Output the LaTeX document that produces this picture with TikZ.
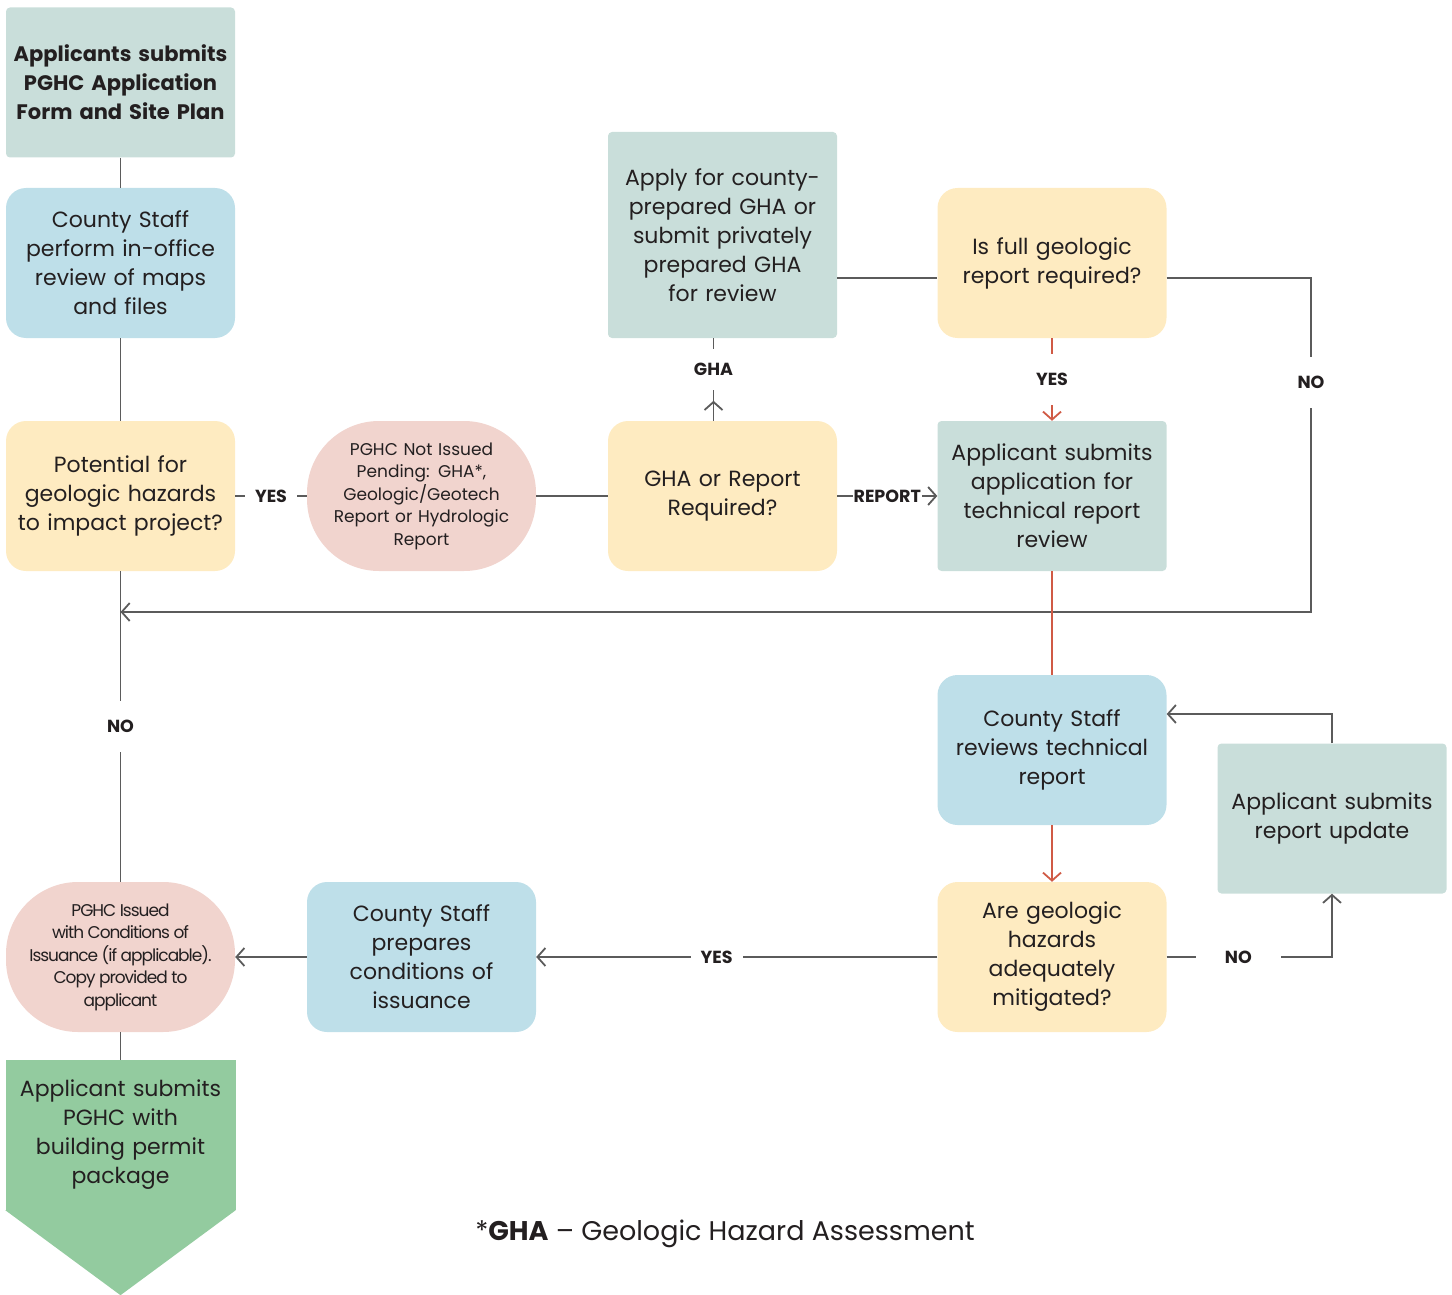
\documentclass[tikz,border=0pt]{standalone}
\usepackage{fontspec}
\setmainfont{Poppins}
\usepackage{tikz}
\usetikzlibrary{arrows.meta,positioning}
\definecolor{applgreen}{HTML}{C9DEDA}
\definecolor{staffblue}{HTML}{BEDFE9}
\definecolor{askyellow}{HTML}{FEEBC1}
\definecolor{pgpink}{HTML}{F1D4CE}
\definecolor{permgreen}{HTML}{93CB9F}
\definecolor{linegray}{HTML}{5B5B5B}
\definecolor{flowred}{HTML}{D05A45}
\definecolor{inkdark}{HTML}{231F20}
\newcommand{\boxfont}{\fontsize{22}{29}\selectfont}
\newcommand{\pinkfont}{\fontsize{17}{22.5}\selectfont}
\newcommand{\lblfont}{\fontsize{17.5}{20}\selectfont\bfseries}
\newcommand{\notefont}{\fontsize{27}{32}\selectfont}
\tikzstyle{applicant} = [rectangle, rounded corners=4pt, minimum width=229pt, minimum height=150pt, text width=215pt, text centered, fill=applgreen, text=inkdark, font=\boxfont]
\tikzstyle{staff} = [rectangle, rounded corners=20pt, minimum width=229pt, minimum height=150pt, text width=215pt, text centered, fill=staffblue, text=inkdark, font=\boxfont]
\tikzstyle{decision} = [rectangle, rounded corners=20pt, minimum width=229pt, minimum height=150pt, text width=215pt, text centered, fill=askyellow, text=inkdark, font=\boxfont]
\tikzstyle{status} = [rectangle, rounded corners=72pt, minimum width=229pt, minimum height=150pt, text width=215pt, text centered, fill=pgpink, text=inkdark, font=\pinkfont]
\tikzstyle{permit} = [rectangle, minimum width=230pt, minimum height=150pt, text width=215pt, text centered, fill=permgreen, text=inkdark, font=\boxfont]
\tikzstyle{lbl} = [fill=white, inner xsep=10pt, inner ysep=19pt, text=inkdark, font=\lblfont]
\tikzstyle{connector} = [draw=linegray, line width=1.8pt]
\tikzstyle{arrow} = [connector, -{Straight Barb[length=8pt,width=18pt]}]
\tikzstyle{redconnector} = [draw=flowred, line width=1.8pt]
\tikzstyle{redarrow} = [redconnector, -{Straight Barb[length=8pt,width=18pt]}]
\begin{document}
\begin{tikzpicture}[x=1pt, y=1pt, node distance=301pt]
\useasboundingbox (0,0) rectangle (1452,-1295);

\node (apply)     [applicant, text width=227pt, inner xsep=1pt, font=\fontsize{21}{29}\selectfont\bfseries] at (120.5,-82.5) {Applicants submits\\PGHC Application\\Form and Site Plan};
\node (inoffice)  [staff, below of=apply, yshift=120.5pt] {County Staff\\perform in-office\\review of maps\\and files};
\node (potential) [decision, below of=inoffice, yshift=68pt] {Potential for\\geologic hazards\\to impact project?};
\node (pending)   [status, right of=potential] {PGHC Not Issued\\Pending: GHA*,\\Geologic/Geotech\\Report or Hydrologic\\Report};
\node (ghaq)      [decision, right of=pending] {GHA or Report\\Required?};
\node (applygha)  [applicant, above of=ghaq, yshift=-40pt, minimum height=206pt] {Apply for county-\\prepared GHA or\\submit privately\\prepared GHA\\for review};
\node (techapp)   [applicant, right of=ghaq, xshift=28.5pt] {Applicant submits\\application for\\technical report\\review};
\node (fullq)     [decision, above of=techapp, yshift=-68pt] {Is full geologic\\report required?};
\node (techrev)   [staff, below of=techapp, yshift=47pt] {County Staff\\reviews technical\\report};
\node (mitig)     [decision, below of=techrev, yshift=94pt] {Are geologic\\hazards\\adequately\\mitigated?};
\node (update)    [applicant, right of=techrev, xshift=-21pt, yshift=-68.5pt] {Applicant submits\\report update};
\node (conds)     [staff, below of=pending, yshift=-160pt] {County Staff\\prepares\\conditions of\\issuance};
\node (issued)    [status, left of=conds, font=\pinkfont\addfontfeatures{LetterSpace=-6}] {\spaceskip=3.5pt\relax PGHC Issued\\with Conditions of\\Issuance (if applicable).\\Copy provided to\\applicant};
\node (permitpkg) [permit, below of=issued, yshift=123pt] {Applicant submits\\PGHC with\\building permit\\package};
\fill [permgreen] (permitpkg.south west) -- (permitpkg.south east) -- ([yshift=-85pt]permitpkg.south) -- cycle;
\node (note) [text=inkdark, font=\notefont] at (725,-1234) {*\textbf{GHA} – Geologic Hazard Assessment};
\coordinate (nocorner) at (1311,-612);

\draw [connector] (apply) -- (inoffice);
\draw [connector] (inoffice) -- (potential);
\draw [connector] (potential) -- node [lbl] {YES} (pending);
\draw [connector] (pending) -- (ghaq);
\draw [arrow] ([xshift=-9pt]ghaq.north) -- ([xshift=-9pt,yshift=20pt]ghaq.north);
\draw [connector] ([xshift=-9pt,yshift=20pt]ghaq.north) -- node [lbl, inner ysep=14pt] {GHA} ([xshift=-9pt]applygha.south);
\draw [arrow] (ghaq) -- node [lbl, inner xsep=1pt] {REPORT} (techapp);
\draw [connector] ([yshift=-43pt]applygha.east) -- ([yshift=-15pt]fullq.west);
\draw [redarrow] (fullq) -- node [lbl] {YES} (techapp);
\draw [arrow] ([yshift=-15pt]fullq.east) -| node [lbl, pos=0.656] {NO} (nocorner) -- (nocorner -| potential);
\draw [connector] (potential) -- node [lbl] {NO} (issued);
\draw [redconnector] (techapp) -- (techrev);
\draw [redarrow] (techrev) -- (mitig);
\draw [arrow] (mitig) -| node [lbl, pos=0.217, inner xsep=29pt] {NO} (update);
\draw [arrow] (update) |- ([yshift=36pt]techrev.east);
\draw [arrow] (mitig) -- node [lbl, pos=0.55] {YES} (conds);
\draw [arrow] (conds) -- (issued);
\draw [connector] (issued) -- (permitpkg);
\end{tikzpicture}
\end{document}
